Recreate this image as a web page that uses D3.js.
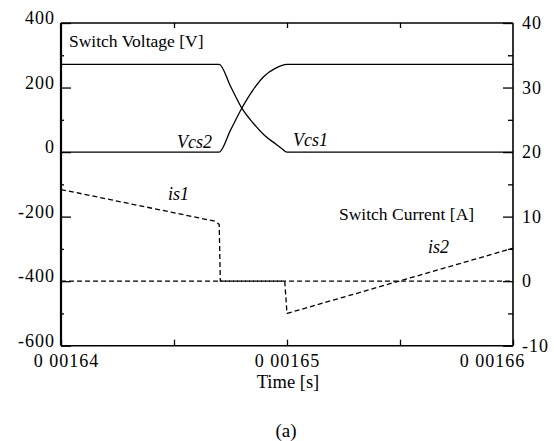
<!DOCTYPE html>
<html><head><meta charset="utf-8">
<script src="https://cdn.jsdelivr.net/npm/d3@7"></script>
<style>
body{margin:0;background:#fff}
svg text{font-family:"Liberation Serif","DejaVu Serif",serif !important;}
</style>
</head><body>
<script>
// ---- data ----
const vTime = [0.001640, 0.001647, 0.0016475, 0.001648, 0.0016485, 0.001649, 0.0016495, 0.00164975, 0.001650, 0.001660];
const vcs2 = [0, 0, 68, 136, 193, 236, 260, 268, 272, 272];
const vcs1 = [272, 272, 204, 136, 90, 52, 25, 12, 0, 0];
const is1Time = [0.001640, 0.0016468, 0.001647, 0.00164705, 0.001660];
const is1 = [14.2, 9.3, 8.8, 0, 0];
const is2Time = [0.001640, 0.0016499, 0.0016500, 0.001660];
const is2 = [0, 0, -5.0, 5.1];
const xTicks = [0.00164, 0.00165, 0.00166];
const xTickLabels = ["0 00164", "0 00165", "0 00166"];
const xMinor = [0.001645, 0.001655];
const yLeftTicks = [400, 200, 0, -200, -400, -600];
const yLeftMinor = [300, 100, -100, -300, -500];
const yRightTicks = [40, 30, 20, 10, 0, -10];
const yRightMinor = [35, 25, 15, 5, -5];

const W = 554, H = 441;
const L = 61, R = 513, T = 23, B = 345.7;
const svg = d3.select("body").append("svg").attr("width", W).attr("height", H);

const x = d3.scaleLinear().domain([0.00164, 0.00166]).range([L, R]);
const yL = d3.scaleLinear().domain([-600, 400]).range([B, T]);
const yR = d3.scaleLinear().domain([-10, 40]).range([B, T]);

function styleAxis(g){
  g.attr("font-family", null).attr("font-size", null);
  g.select(".domain").remove();
  g.selectAll(".tick line").attr("stroke", "#000").attr("stroke-width", 1.3);
  g.selectAll("text").style("font-size", "18px")
    .style("letter-spacing", "1px").attr("fill", "#000");
}
const plain = d => String(d);

// left axis
svg.append("g").attr("transform", `translate(${L},0)`)
  .call(d3.axisLeft(yL).tickValues(yLeftTicks).tickFormat(plain).tickSizeInner(-10).tickSizeOuter(0).tickPadding(6))
  .call(styleAxis)
  .call(g => g.selectAll("text").attr("y", -5));
svg.append("g").attr("transform", `translate(${L},0)`)
  .call(d3.axisLeft(yL).tickValues(yLeftMinor).tickSizeInner(-3).tickSizeOuter(0).tickFormat(""))
  .call(styleAxis);

// right axis
svg.append("g").attr("transform", `translate(${R},0)`)
  .call(d3.axisRight(yR).tickValues(yRightTicks).tickFormat(plain).tickSizeInner(-10).tickSizeOuter(0).tickPadding(9))
  .call(styleAxis);
svg.append("g").attr("transform", `translate(${R},0)`)
  .call(d3.axisRight(yR).tickValues(yRightMinor).tickSizeInner(-5).tickSizeOuter(0).tickFormat(""))
  .call(styleAxis);

// top axis ticks
svg.append("g").attr("transform", `translate(0,${T})`)
  .call(d3.axisTop(x).tickValues([xMinor[0], xTicks[1], xMinor[1]]).tickSizeInner(-5).tickSizeOuter(0).tickFormat(""))
  .call(styleAxis);
// bottom axis
const labOffset = [5, 0, -21];
svg.append("g").attr("transform", `translate(0,${B})`)
  .call(d3.axisBottom(x).tickValues(xTicks.concat(xMinor)).tickSizeInner(-6).tickSizeOuter(0)
    .tickFormat(d => { const i = xTicks.indexOf(d); return i >= 0 ? xTickLabels[i] : ""; }).tickPadding(9))
  .call(styleAxis)
  .call(g => g.selectAll(".tick text").attr("dx", d => { const i = xTicks.indexOf(d); return i >= 0 ? labOffset[i] : 0; }));

// frame
svg.append("line").attr("x1", L).attr("x2", R).attr("y1", T).attr("y2", T).attr("stroke", "#000").attr("stroke-width", 1.3);
svg.append("line").attr("x1", L).attr("x2", R).attr("y1", B).attr("y2", B).attr("stroke", "#000").attr("stroke-width", 1.6);
svg.append("line").attr("x1", L).attr("x2", L).attr("y1", T).attr("y2", B).attr("stroke", "#000").attr("stroke-width", 2.2);
svg.append("line").attr("x1", R).attr("x2", R).attr("y1", T).attr("y2", B).attr("stroke", "#000").attr("stroke-width", 1.6);

// voltage lines
const vLine = vals => d3.line().x((d, i) => x(vTime[i])).y((d) => yL(d)).curve(d3.curveMonotoneX)(vals);
svg.append("path").attr("d", vLine(vcs2)).attr("fill", "none").attr("stroke", "#000").attr("stroke-width", 1.3);
svg.append("path").attr("d", vLine(vcs1)).attr("fill", "none").attr("stroke", "#000").attr("stroke-width", 1.3);

// current lines
const cLine = (ts, vals) => d3.line().x((d, i) => x(ts[i])).y(d => yR(d))(vals);
svg.append("path").attr("d", cLine(is1Time, is1)).attr("fill", "none").attr("stroke", "#000")
  .attr("stroke-width", 1.3).attr("stroke-dasharray", "5,3");
svg.append("path").attr("d", cLine(is2Time, is2)).attr("fill", "none").attr("stroke", "#000")
  .attr("stroke-width", 1.3).attr("stroke-dasharray", "5,3");

// labels
function txt(s, px, py, opts = {}){
  return svg.append("text").attr("x", px).attr("y", py).text(s)
    .style("font-size", (opts.size || 17.5) + "px")
    .style("font-style", opts.italic ? "italic" : "normal")
    .attr("text-anchor", opts.anchor || "start").attr("fill", "#000");
}
txt("Switch Voltage [V]", 69, 47);
txt("Switch Current [A]", 339, 220);
txt("Vcs2", 177, 148, {italic: true, size: 18});
txt("Vcs1", 293, 146, {italic: true, size: 18});
txt("is1", 168, 200, {italic: true, size: 18});
txt("is2", 428, 253, {italic: true, size: 18});
txt("Time [s]", 288, 388, {anchor: "middle", size: 18.5});
txt("(a)", 286, 437, {anchor: "middle", size: 19});
</script>
</body></html>
